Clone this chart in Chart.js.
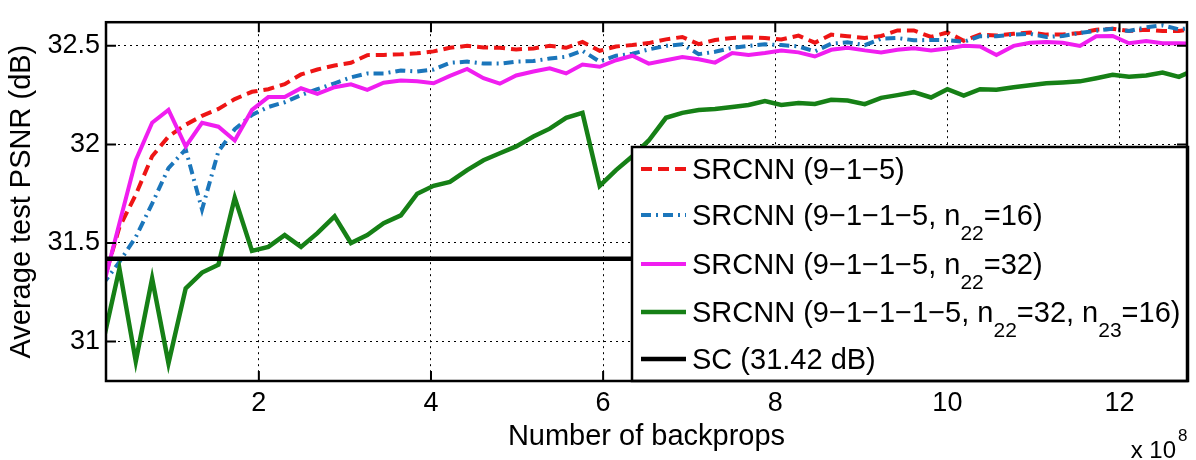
<!DOCTYPE html>
<html>
<head>
<meta charset="utf-8">
<script src="https://cdn.jsdelivr.net/npm/chart.js@4.4.1/dist/chart.umd.min.js"></script>
<style>
  html, body { margin: 0; padding: 0; background: #fff; }
</style>
</head>
<body>
<canvas id="grafico" width="1196" height="460"></canvas>
<script>
// number of backprops (x 10^8)
const backprops = [
    0.18, 0.38, 0.57, 0.76, 0.95, 1.15, 1.34, 1.53, 1.72, 1.92,
    2.11, 2.30, 2.49, 2.68, 2.88, 3.07, 3.26, 3.45, 3.65, 3.84,
    4.03, 4.22, 4.42, 4.61, 4.80, 4.99, 5.19, 5.38, 5.57, 5.76,
    5.96, 6.15, 6.34, 6.53, 6.73, 6.92, 7.11, 7.30, 7.50, 7.69,
    7.88, 8.07, 8.27, 8.46, 8.65, 8.84, 9.04, 9.23, 9.42, 9.61,
    9.81, 10.00, 10.19, 10.38, 10.57, 10.77, 10.96, 11.15, 11.34, 11.54,
    11.73, 11.92, 12.11, 12.31, 12.50, 12.69, 12.88
];

const psnr915 = [
    31.28, 31.58, 31.745, 31.94, 32.04, 32.10, 32.145, 32.18, 32.23, 32.267,
    32.28, 32.306, 32.355, 32.38, 32.40, 32.414, 32.453, 32.454, 32.457, 32.462,
    32.472, 32.49, 32.50, 32.492, 32.49, 32.482, 32.487, 32.50, 32.49, 32.52,
    32.475, 32.497, 32.504, 32.514, 32.533, 32.545, 32.509, 32.53, 32.54, 32.544,
    32.54, 32.532, 32.552, 32.516, 32.557, 32.549, 32.54, 32.55, 32.578, 32.578,
    32.545, 32.568, 32.526, 32.557, 32.552, 32.561, 32.568, 32.557, 32.558, 32.565,
    32.582, 32.587, 32.575, 32.582, 32.575, 32.575, 32.59
];

const psnr9115n16 = [
    31.287, 31.404, 31.53, 31.70, 31.88, 31.975, 31.67, 31.965, 32.077, 32.15,
    32.19, 32.214, 32.25, 32.28, 32.31, 32.34, 32.36, 32.36, 32.375, 32.37,
    32.38, 32.414, 32.42, 32.41, 32.41, 32.42, 32.423, 32.436, 32.445, 32.475,
    32.42, 32.45, 32.46, 32.482, 32.50, 32.508, 32.458, 32.47, 32.49, 32.50,
    32.508, 32.504, 32.497, 32.472, 32.511, 32.518, 32.504, 32.536, 32.54, 32.528,
    32.53, 32.53, 32.52, 32.549, 32.549, 32.557, 32.561, 32.545, 32.55, 32.565,
    32.577, 32.587, 32.575, 32.594, 32.604, 32.584, 32.593
];

const psnr9115n32 = [
    31.26, 31.60, 31.92, 32.11, 32.175, 31.99, 32.11, 32.09, 32.02, 32.175,
    32.24, 32.24, 32.285, 32.256, 32.29, 32.305, 32.277, 32.313, 32.324, 32.32,
    32.31, 32.348, 32.383, 32.336, 32.308, 32.35, 32.37, 32.386, 32.36, 32.405,
    32.394, 32.427, 32.45, 32.41, 32.427, 32.443, 32.432, 32.415, 32.464, 32.454,
    32.464, 32.476, 32.467, 32.446, 32.48, 32.49, 32.477, 32.467, 32.48, 32.488,
    32.476, 32.487, 32.50, 32.497, 32.454, 32.50, 32.516, 32.52, 32.516, 32.50,
    32.549, 32.55, 32.513, 32.524, 32.513, 32.513, 32.51
];

const psnr91115 = [
    30.98, 31.37, 30.90, 31.32, 30.89, 31.27, 31.35, 31.39, 31.73, 31.46,
    31.48, 31.54, 31.48, 31.55, 31.635, 31.50, 31.54, 31.60, 31.64, 31.75,
    31.79, 31.81, 31.87, 31.92, 31.955, 31.99, 32.04, 32.08, 32.135, 32.16,
    31.79, 31.87, 31.94, 32.02, 32.135, 32.16, 32.175, 32.18, 32.19, 32.20,
    32.22, 32.20, 32.21, 32.205, 32.226, 32.223, 32.204, 32.236, 32.25, 32.265,
    32.238, 32.28, 32.248, 32.28, 32.277, 32.29, 32.30, 32.31, 32.314, 32.32,
    32.336, 32.353, 32.343, 32.35, 32.365, 32.343, 32.38
];

const psnrSC = 31.42;

const xTicks = [2, 4, 6, 8, 10, 12];
const yTicks = [31, 31.5, 32, 32.5];

// _{..} marca subscrito
const legendas = [
    'SRCNN (9\u22121\u22125)',
    'SRCNN (9\u22121\u22121\u22125, n_{22}=16)',
    'SRCNN (9\u22121\u22121\u22125, n_{22}=32)',
    'SRCNN (9\u22121\u22121\u22121\u22125, n_{22}=32, n_{23}=16)',
    'SC (31.42 dB)'
];

const fonte = "'Liberation Sans', Arial, Helvetica, sans-serif";

function pontos(valores) {
    return backprops.map((x, i) => ({ x: x, y: valores[i] }));
}

function partesTexto(txt) {
    const partes = [];
    const re = /_\{([^}]*)\}/g;
    let ultimo = 0, m;
    while ((m = re.exec(txt)) !== null) {
        if (m.index > ultimo) partes.push({ t: txt.slice(ultimo, m.index), sub: false });
        partes.push({ t: m[1], sub: true });
        ultimo = re.lastIndex;
    }
    if (ultimo < txt.length) partes.push({ t: txt.slice(ultimo), sub: false });
    return partes;
}

const moldura = {
    id: 'moldura',
    afterDatasetsDraw(chart) {
        const ctx = chart.ctx;
        const a = chart.chartArea;
        const sx = chart.scales.x, sy = chart.scales.y;
        ctx.save();

        // marcas dos ticks para dentro (todos os lados)
        ctx.strokeStyle = '#000';
        ctx.lineWidth = 2;
        ctx.setLineDash([]);
        ctx.beginPath();
        xTicks.forEach(v => {
            const px = sx.getPixelForValue(v);
            ctx.moveTo(px, a.top); ctx.lineTo(px, a.top + 10);
            ctx.moveTo(px, a.bottom); ctx.lineTo(px, a.bottom - 10);
        });
        yTicks.forEach(v => {
            const py = sy.getPixelForValue(v);
            ctx.moveTo(a.left, py); ctx.lineTo(a.left + 10, py);
            ctx.moveTo(a.right, py); ctx.lineTo(a.right - 10, py);
        });
        ctx.stroke();

        // caixa da legenda
        const lx = 632, ly = 147, lr = a.right + 1, lb = a.bottom;
        ctx.fillStyle = '#fff';
        ctx.fillRect(lx, ly, lr - lx, lb - ly);
        ctx.lineWidth = 2.5;
        ctx.strokeRect(lx, ly, lr - lx, lb - ly);

        const linhasY = [169, 215, 264, 312, 359];
        chart.data.datasets.forEach((ds, i) => {
            const y = linhasY[i];
            ctx.save();
            ctx.strokeStyle = ds.borderColor;
            ctx.lineWidth = ds.borderWidth;
            ctx.setLineDash(ds.borderDash || []);
            ctx.beginPath();
            ctx.moveTo(641, y);
            ctx.lineTo(686, y);
            ctx.stroke();
            ctx.restore();

            let x = 692;
            const base = y + 10;
            ctx.fillStyle = '#000';
            ctx.textBaseline = 'alphabetic';
            ctx.textAlign = 'left';
            partesTexto(legendas[i]).forEach(p => {
                ctx.font = (p.sub ? '21px ' : '29px ') + fonte;
                ctx.fillText(p.t, x, p.sub ? base + 15 : base);
                x += ctx.measureText(p.t).width;
            });
        });

        // moldura do grafico
        ctx.lineWidth = 2.5;
        ctx.strokeRect(a.left, a.top, a.right - a.left, a.bottom - a.top);

        // multiplicador do eixo x
        ctx.fillStyle = '#000';
        ctx.font = '24px ' + fonte;
        ctx.textAlign = 'right';
        ctx.fillText('x 10', 1176, 458);
        ctx.font = '17px ' + fonte;
        ctx.textAlign = 'left';
        ctx.fillText('8', 1178, 441);
        ctx.restore();
    }
};

const ctx = document.getElementById('grafico').getContext('2d');

new Chart(ctx, {
    type: 'line',
    data: {
        datasets: [
            {
                label: legendas[0],
                data: pontos(psnr915),
                borderColor: '#ee1515',
                borderWidth: 4,
                borderDash: [11, 6],
                order: 4
            },
            {
                label: legendas[1],
                data: pontos(psnr9115n16),
                borderColor: '#1b76bb',
                borderWidth: 4,
                borderDash: [10, 5, 2, 5],
                order: 3
            },
            {
                label: legendas[2],
                data: pontos(psnr9115n32),
                borderColor: '#f01ef0',
                borderWidth: 4,
                order: 2
            },
            {
                label: legendas[3],
                data: pontos(psnr91115),
                borderColor: '#168016',
                borderWidth: 4.5,
                order: 1
            },
            {
                label: legendas[4],
                data: [
                    { x: backprops[0], y: psnrSC },
                    { x: backprops[backprops.length - 1], y: psnrSC }
                ],
                borderColor: '#000',
                borderWidth: 4.5,
                order: 0
            }
        ]
    },
    options: {
        responsive: false,
        animation: false,
        layout: { padding: { top: 8, right: 9, left: 0, bottom: 0 } },
        elements: {
            point: { radius: 0 },
            line: { tension: 0, fill: false, borderCapStyle: 'butt' }
        },
        datasets: { line: { clip: 0 } },
        plugins: {
            legend: { display: false },
            tooltip: { enabled: false }
        },
        scales: {
            x: {
                type: 'linear',
                min: 0.224,
                max: 12.784,
                afterBuildTicks: s => { s.ticks = xTicks.map(v => ({ value: v })); },
                afterFit: s => { s.height = 79; },
                ticks: {
                    padding: 6,
                    color: '#000',
                    font: { family: fonte, size: 27 },
                    callback: v => String(v)
                },
                grid: { color: '#000', lineWidth: 1, drawTicks: false },
                border: { display: false, dash: [2, 4] },
                title: {
                    display: true,
                    text: 'Number of backprops',
                    color: '#000',
                    font: { family: fonte, size: 29 },
                    padding: { top: 0, bottom: 6 }
                }
            },
            y: {
                type: 'linear',
                min: 30.8,
                max: 32.62,
                afterBuildTicks: s => { s.ticks = yTicks.map(v => ({ value: v })); },
                afterFit: s => { s.width = 106; },
                ticks: {
                    padding: 6,
                    color: '#000',
                    font: { family: fonte, size: 27 },
                    callback: v => String(v)
                },
                grid: { color: '#000', lineWidth: 1, drawTicks: false },
                border: { display: false, dash: [2, 4] },
                title: {
                    display: true,
                    text: 'Average test PSNR (dB)',
                    color: '#000',
                    font: { family: fonte, size: 29 },
                    padding: { top: 5, bottom: 0 }
                }
            }
        }
    },
    plugins: [moldura]
});
</script>
</body>
</html>
